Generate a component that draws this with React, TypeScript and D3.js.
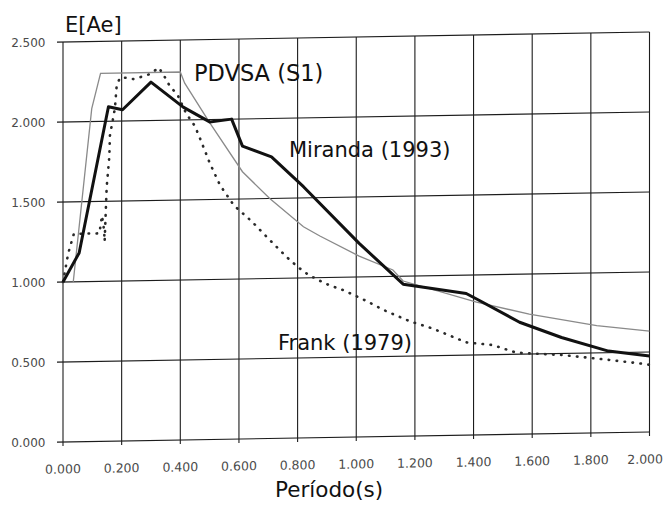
import React from 'react';
import * as d3 from 'd3';

// ---- data ----
const xTicks = [0, 0.2, 0.4, 0.6, 0.8, 1.0, 1.2, 1.4, 1.6, 1.8, 2.0];
const yTicks = [0, 0.5, 1.0, 1.5, 2.0, 2.5];

const mirandaT = [0, 0.055, 0.155, 0.203, 0.30, 0.41, 0.50, 0.575, 0.612, 0.711, 0.82, 1.01, 1.16, 1.375, 1.42, 1.557, 1.70, 1.86, 2.0];
const mirandaE = [1.0, 1.18, 2.09, 2.07, 2.24, 2.08, 1.985, 2.0, 1.83, 1.76, 1.57, 1.21, 0.95, 0.885, 0.84, 0.70, 0.60, 0.51, 0.475];

const pdvsaT = [0.035, 0.098, 0.128, 0.40, 0.415, 0.50, 0.612, 0.705, 0.82, 0.876, 1.01, 1.125, 1.16, 1.41, 1.59, 1.82, 2.0];
const pdvsaE = [1.0, 2.08, 2.30, 2.30, 2.23, 1.98, 1.67, 1.50, 1.32, 1.26, 1.13, 1.04, 0.97, 0.83, 0.75, 0.67, 0.63];

const frankT = [0, 0.018, 0.037, 0.064, 0.092, 0.124, 0.133, 0.140, 0.142, 0.149, 0.158, 0.160, 0.177, 0.183, 0.194, 0.219, 0.242, 0.296, 0.327, 0.347, 0.365, 0.39, 0.42, 0.45, 0.47, 0.50, 0.535, 0.583, 0.643, 0.70, 0.764, 0.80, 0.836, 0.876, 0.91, 0.955, 1.023, 1.10, 1.18, 1.26, 1.375, 1.466, 1.546, 1.705, 1.84, 1.966, 2.0];
const frankE = [1.0, 1.18, 1.30, 1.30, 1.30, 1.30, 1.41, 1.32, 1.25, 1.59, 1.78, 1.91, 2.08, 2.22, 2.27, 2.27, 2.26, 2.29, 2.33, 2.27, 2.21, 2.16, 2.04, 1.96, 1.87, 1.73, 1.59, 1.46, 1.36, 1.25, 1.13, 1.07, 1.02, 0.98, 0.95, 0.92, 0.86, 0.785, 0.72, 0.67, 0.58, 0.56, 0.51, 0.49, 0.46, 0.43, 0.42];

const yTitle = 'E[Ae]';
const xTitle = 'Período(s)';
const seriesLabels = ['PDVSA (S1)', 'Miranda (1993)', 'Frank (1979)'];

const W = 665;
const H = 505;
const FONT = '"DejaVu Sans", Arial, sans-serif';

export default function App() {
  const x = d3.scaleLinear().domain([0, 2]).range([63, 649.5]);
  const y = d3.scaleLinear().domain([0, 2.5]).range([442, 42]);
  const line = d3
    .line<[number, number]>()
    .x((d) => x(d[0]))
    .y((d) => y(d[1]));

  const zip = (a: number[], b: number[]) => a.map((t, i) => [t, b[i]] as [number, number]);
  const skew = `translate(63,0) skewY(-0.976) translate(-63,0)`;
  const last = xTicks.length - 1;

  return (
    <svg
      width={W}
      height={H}
      viewBox={`0 0 ${W} ${H}`}
      style={{ position: 'absolute', left: 0, top: 0, background: '#fff' }}
    >
      <rect x={0} y={0} width={W} height={H} fill="#fff" />
      <g transform={skew}>
        {/* horizontal grid */}
        {yTicks.map((v) => (
          <line key={'h' + v} x1={57} x2={x(2)} y1={y(v)} y2={y(v)} stroke="#1c1c1c" strokeWidth={1.1} />
        ))}
        {/* vertical grid */}
        {xTicks.map((v) => (
          <line key={'v' + v} x1={x(v)} x2={x(v)} y1={y(2.5)} y2={y(0) + 4} stroke="#1c1c1c" strokeWidth={1.1} />
        ))}
        {/* x tick labels */}
        {xTicks.map((v, i) => (
          <text
            key={'xt' + v}
            x={i === last ? 663 : x(v)}
            y={473.5}
            textAnchor={i === last ? 'end' : 'middle'}
            fontFamily={FONT}
            fontSize={12.5}
            fill="#4a4a4a"
          >
            {v.toFixed(3)}
          </text>
        ))}
        {/* PDVSA thin gray */}
        <path d={line(zip(pdvsaT, pdvsaE)) || ''} fill="none" stroke="#8a8a8a" strokeWidth={1.3} />
        {/* Frank dotted */}
        <path
          d={line(zip(frankT, frankE)) || ''}
          fill="none"
          stroke="#2a2a2a"
          strokeWidth={2.6}
          strokeDasharray="0.5 7.5"
          strokeLinecap="round"
        />
        {/* Miranda thick black */}
        <path d={line(zip(mirandaT, mirandaE)) || ''} fill="none" stroke="#111" strokeWidth={3} strokeLinejoin="round" />
      </g>

      {/* y tick labels */}
      {yTicks.map((v) => (
        <text key={'yt' + v} x={45.5} y={y(v) + 5} textAnchor="end" fontFamily={FONT} fontSize={12} fill="#4a4a4a">
          {v.toFixed(3)}
        </text>
      ))}

      <text x={65} y={32} fontFamily={FONT} fontSize={21} fill="#111">
        {yTitle}
      </text>
      <text x={275} y={497} fontFamily={FONT} fontSize={21.5} fill="#111">
        {xTitle}
      </text>
      <text x={194} y={81} fontFamily={FONT} fontSize={22.5} fill="#111">
        {seriesLabels[0]}
      </text>
      <text x={289} y={156.5} fontFamily={FONT} fontSize={21} fill="#111">
        {seriesLabels[1]}
      </text>
      <text x={278} y={350} fontFamily={FONT} fontSize={21} fill="#111">
        {seriesLabels[2]}
      </text>
    </svg>
  );
}
